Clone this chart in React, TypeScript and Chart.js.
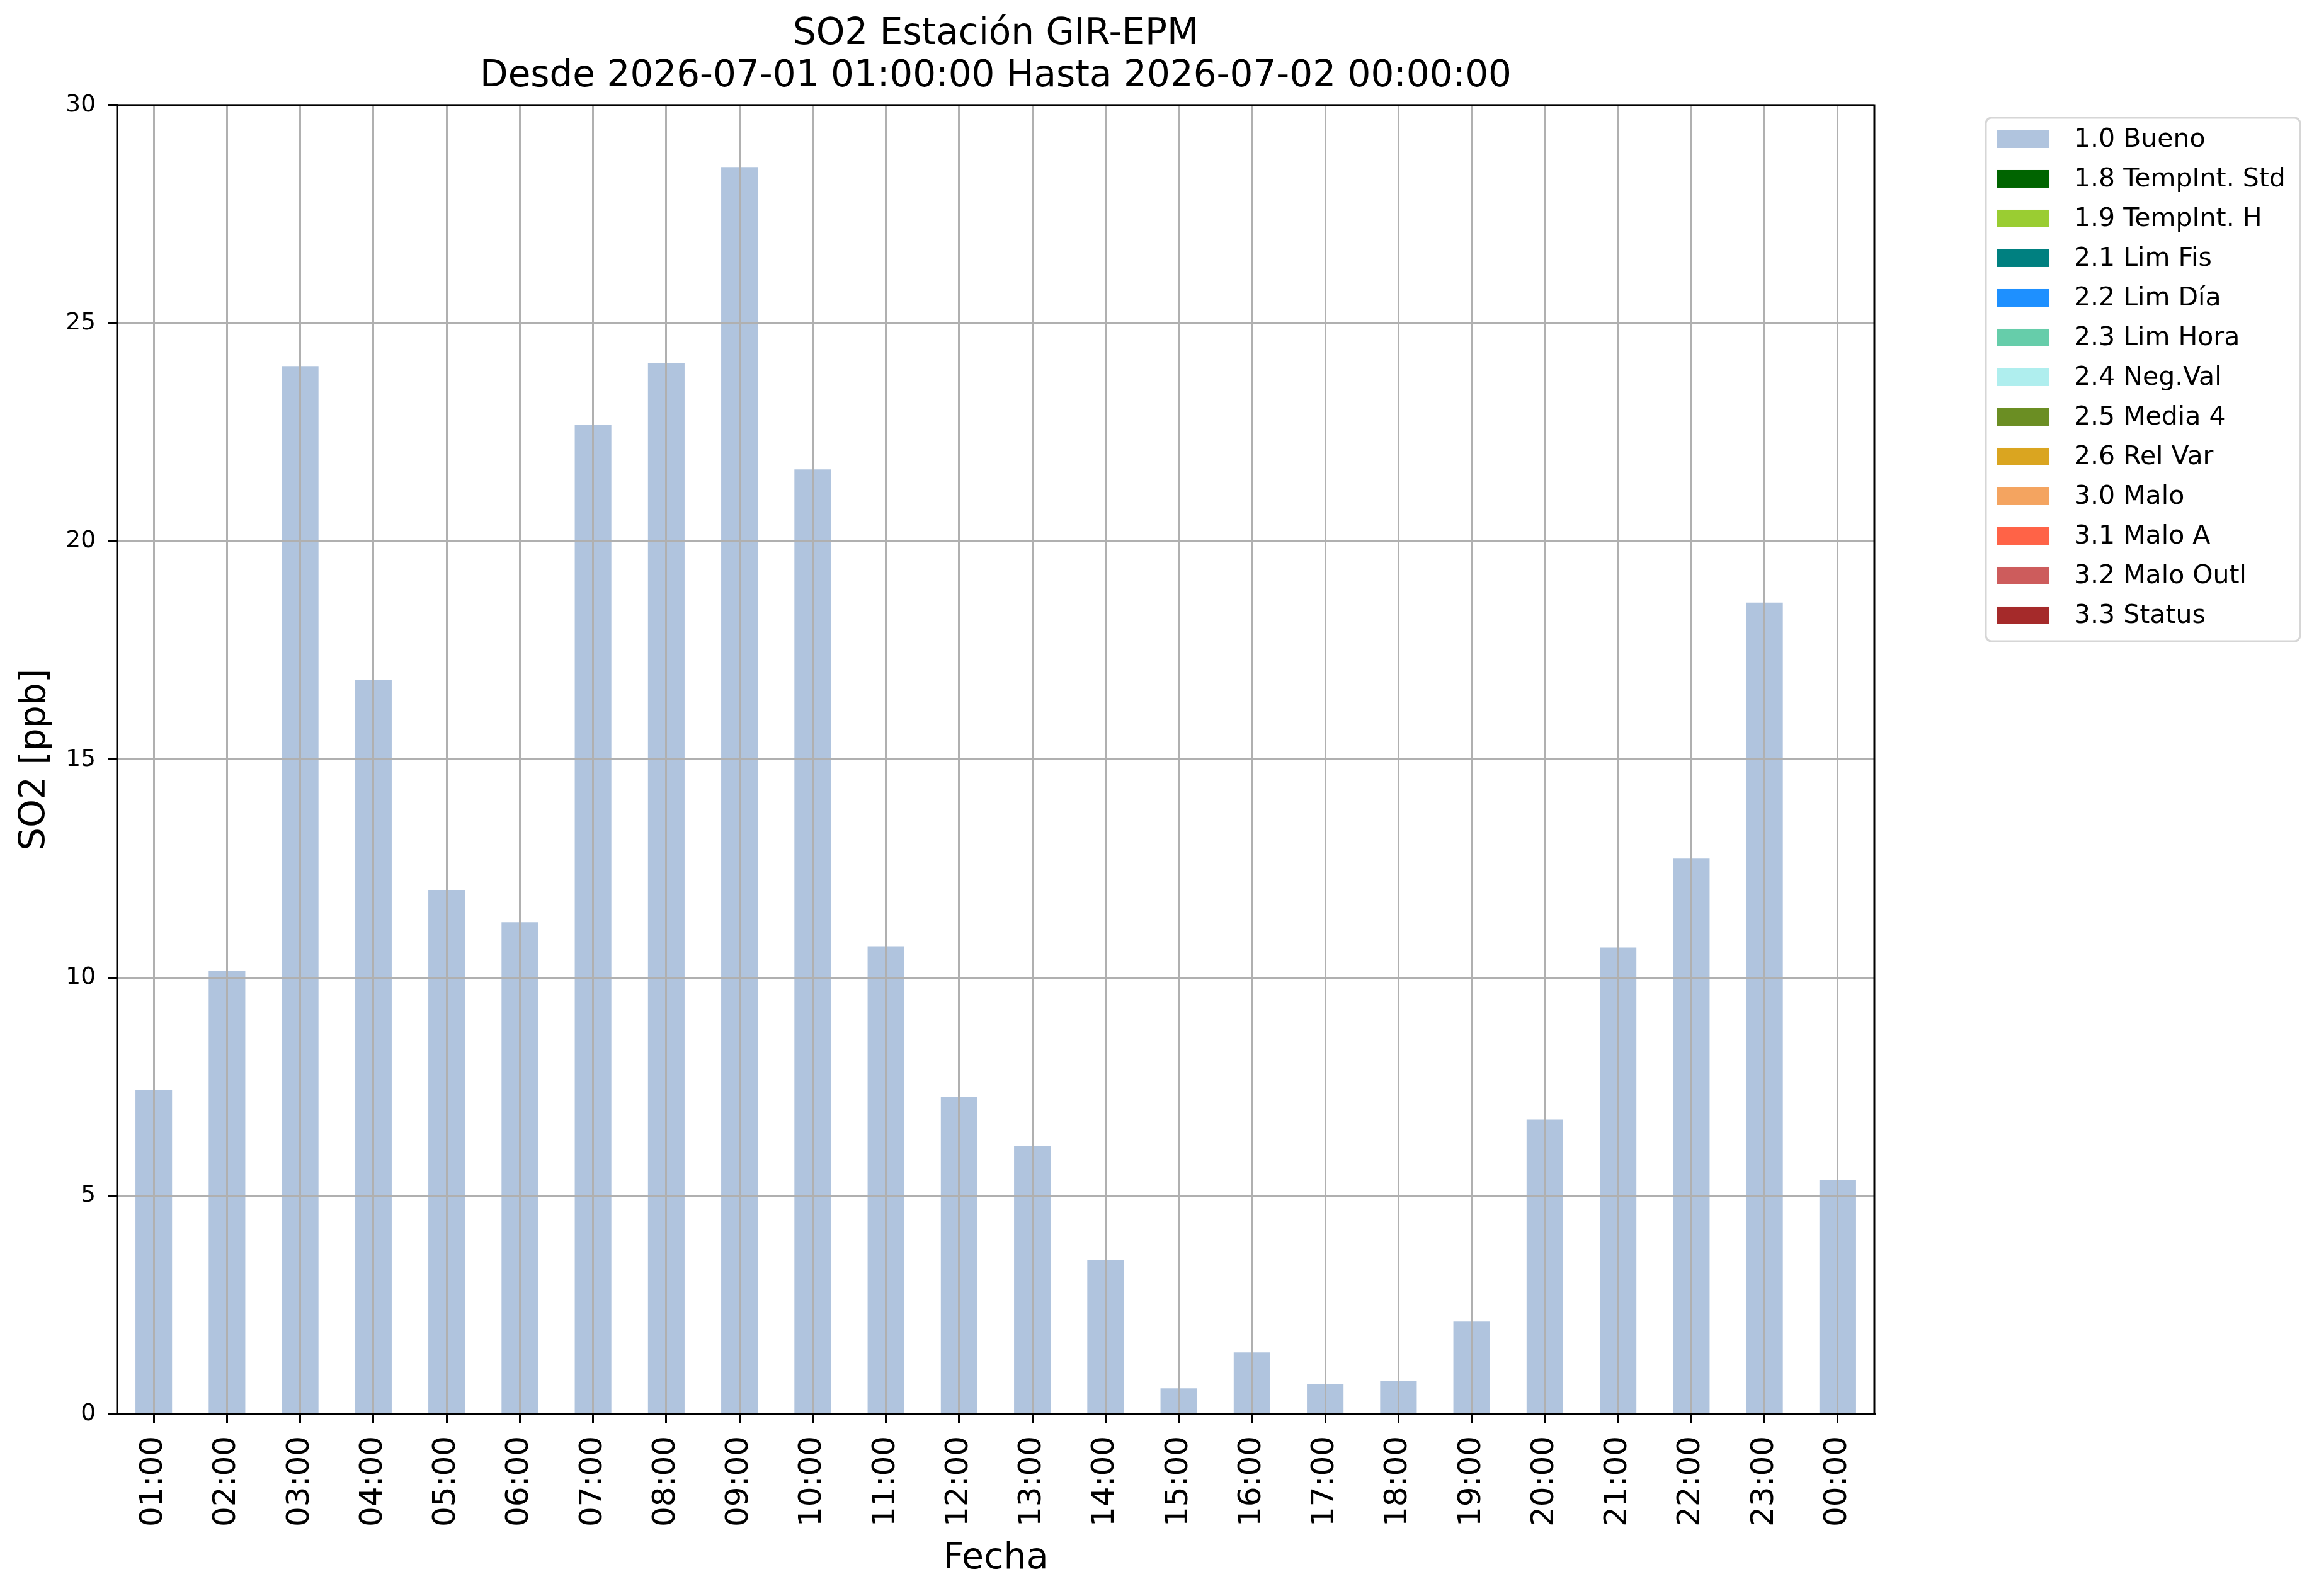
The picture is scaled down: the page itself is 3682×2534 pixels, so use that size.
import React, { useEffect, useRef } from "react";
import { Chart, registerables } from "chart.js";

Chart.register(...registerables);

const hours = [
  "01:00", "02:00", "03:00", "04:00", "05:00", "06:00", "07:00", "08:00",
  "09:00", "10:00", "11:00", "12:00", "13:00", "14:00", "15:00", "16:00",
  "17:00", "18:00", "19:00", "20:00", "21:00", "22:00", "23:00", "00:00",
];

const so2Bueno = [
  7.43, 10.15, 24.02, 16.83, 12.01, 11.27, 22.67, 24.08, 28.58, 21.65, 10.72, 7.26,
  6.14, 3.53, 0.59, 1.41, 0.68, 0.75, 2.12, 6.75, 10.69, 12.73, 18.6, 5.36,
];

const flagLabels = [
  "1.0 Bueno", "1.8 TempInt. Std", "1.9 TempInt. H", "2.1 Lim Fis", "2.2 Lim Día",
  "2.3 Lim Hora", "2.4 Neg.Val", "2.5 Media 4", "2.6 Rel Var", "3.0 Malo",
  "3.1 Malo A", "3.2 Malo Outl", "3.3 Status",
];

const flagColors = [
  "#b0c4de", "#006400", "#9acd32", "#008080", "#1e90ff", "#66cdaa", "#afeeee",
  "#6b8e23", "#daa520", "#f4a460", "#ff6347", "#cd5c5c", "#a52a2a",
];

const yTicks = [0, 5, 10, 15, 20, 25, 30];

const titleLines = [
  "SO2 Estación GIR-EPM",
  "Desde 2026-07-01 01:00:00 Hasta 2026-07-02 00:00:00",
];

const FONT = "'DejaVu Sans', 'Liberation Sans', sans-serif";

const framePlugin = {
  id: "frame",
  afterDraw(chart: any) {
    const { ctx, chartArea } = chart;
    ctx.save();
    ctx.strokeStyle = "#000000";
    ctx.lineWidth = 3;
    ctx.strokeRect(
      chartArea.left,
      chartArea.top,
      chartArea.right - chartArea.left,
      chartArea.bottom - chartArea.top
    );
    ctx.restore();
  },
};

const legendPlugin = {
  id: "mplLegend",
  afterDraw(chart: any) {
    const { ctx, chartArea } = chart;
    const datasets = chart.data.datasets;
    const left = chartArea.right + 177;
    const top = chartArea.top + 20;
    const width = 499;
    const rowStep = 63;
    const height = 20 + (datasets.length - 1) * rowStep + 28 + 27;
    ctx.save();
    ctx.beginPath();
    (ctx as any).roundRect(left, top, width, height, 9);
    ctx.fillStyle = "rgba(255,255,255,0.8)";
    ctx.fill();
    ctx.lineWidth = 3;
    ctx.strokeStyle = "#d6d6d6";
    ctx.stroke();
    ctx.font = `41px ${FONT}`;
    ctx.textBaseline = "middle";
    ctx.textAlign = "left";
    datasets.forEach((ds: any, i: number) => {
      const y0 = top + 20 + i * rowStep;
      ctx.fillStyle = ds.backgroundColor;
      ctx.fillRect(left + 18, y0, 83, 28);
      ctx.fillStyle = "#000000";
      ctx.fillText(ds.label, left + 140, y0 + 15);
    });
    ctx.restore();
  },
};

export default function App() {
  const canvasRef = useRef<HTMLCanvasElement | null>(null);

  useEffect(() => {
    if (!canvasRef.current) return;
    const datasets = flagLabels.map((label, i) => ({
      label,
      data: i === 0 ? so2Bueno : hours.map(() => null),
      backgroundColor: flagColors[i],
      borderWidth: 0,
      barPercentage: 0.5,
      categoryPercentage: 1.0,
    }));

    const chart = new Chart(canvasRef.current, {
      type: "bar",
      data: { labels: hours, datasets: datasets as any },
      options: {
        responsive: false,
        animation: false,
        devicePixelRatio: 1,
        layout: { padding: { left: 0, right: 706, top: 0, bottom: 0 } },
        plugins: {
          legend: { display: false },
          tooltip: { enabled: false },
          title: {
            display: true,
            text: titleLines,
            fullSize: false,
            color: "#000000",
            font: { family: FONT, size: 58, weight: "normal", lineHeight: 1.155 },
            padding: { top: 21, bottom: 12 },
          },
        },
        scales: {
          x: {
            stacked: true,
            offset: true,
            grid: {
              z: 1,
              offset: false,
              color: "#b0b0b0",
              lineWidth: 3,
              drawTicks: true,
              tickLength: 15,
              tickColor: "#000000",
              tickWidth: 3,
            },
            border: { display: true, color: "#000000", width: 3, z: 2 },
            ticks: {
              z: 2,
              autoSkip: false,
              minRotation: 90,
              maxRotation: 90,
              padding: 20,
              color: "#000000",
              font: { family: FONT, size: 50 },
            },
            title: {
              display: true,
              text: "Fecha",
              color: "#000000",
              font: { family: FONT, size: 57 },
              padding: { top: 0, bottom: 25 },
            },
            afterFit: (scale: any) => {
              scale.height = 289;
            },
          },
          y: {
            stacked: true,
            min: 0,
            max: 30,
            afterBuildTicks: (scale: any) => {
              scale.ticks = yTicks.map((v) => ({ value: v }));
            },
            grid: {
              z: 1,
              color: "#b0b0b0",
              lineWidth: 3,
              drawTicks: true,
              tickLength: 15,
              tickColor: "#000000",
              tickWidth: 3,
            },
            border: { display: true, color: "#000000", width: 3, z: 2 },
            ticks: {
              z: 2,
              padding: 19,
              color: "#000000",
              font: { family: FONT, size: 37.5 },
            },
            title: {
              display: true,
              text: "SO2 [ppb]",
              color: "#000000",
              font: { family: FONT, size: 57 },
              padding: { top: 22, bottom: 0 },
            },
            afterFit: (scale: any) => {
              scale.width = 186;
            },
          },
        },
      },
      plugins: [framePlugin, legendPlugin],
    });

    return () => {
      chart.destroy();
    };
  }, []);

  return (
    <div style={{ position: "fixed", left: 0, top: 0, width: 3682, height: 2534, background: "#ffffff" }}>
      <canvas ref={canvasRef} width={3682} height={2534} style={{ width: 3682, height: 2534, display: "block" }} />
    </div>
  );
}
